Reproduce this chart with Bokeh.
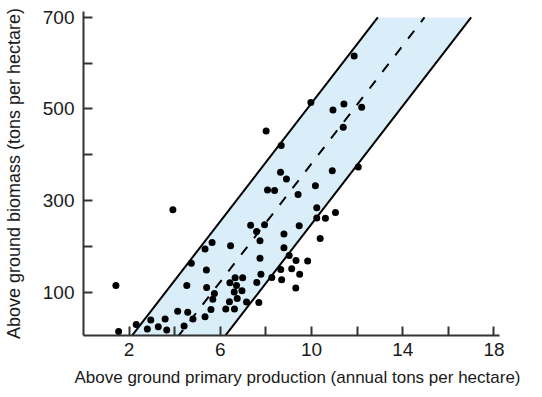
from bokeh.plotting import figure
from bokeh.models import FixedTicker, Range1d
from bokeh.embed import file_html
from bokeh.resources import INLINE

# Data (x: annual production t/ha, y: biomass t/ha)
production = [1.42, 1.54, 2.31, 2.80, 2.95, 3.28, 3.58, 3.65, 4.13, 4.41,
              4.53, 4.57, 4.80, 3.92, 4.73, 5.33, 5.64, 5.39, 5.40, 5.74,
              5.67, 5.59, 5.33, 6.24, 6.40, 6.62, 6.42, 6.65, 6.98, 6.71,
              6.61, 6.95, 6.74, 7.15, 6.45, 7.33, 7.59, 7.94, 7.74, 7.74,
              7.78, 7.60, 7.69, 8.07, 8.38, 8.90, 9.41, 9.46, 8.79, 8.79,
              9.02, 9.32, 9.83, 8.65, 9.13, 9.48, 8.26, 8.69, 9.31, 8.01,
              8.67, 8.64, 9.97, 10.94, 11.42, 12.20, 11.39, 10.91, 12.05, 10.17,
              10.23, 10.23, 10.61, 11.05, 10.38, 11.87]
biomass = [114, 14, 29, 19, 39, 24, 41, 17, 58, 26,
           114, 56, 41, 280, 163, 194, 208, 148, 110, 97,
           84, 62, 46, 63, 79, 63, 120, 131, 131, 114,
           100, 103, 86, 78, 201, 246, 232, 247, 212, 174,
           139, 121, 77, 323, 322, 347, 313, 245, 227, 197,
           180, 169, 168, 149, 151, 139, 132, 127, 109, 452,
           420, 362, 514, 498, 511, 504, 460, 365, 373, 332,
           284, 262, 261, 274, 217, 616]

# Fitted line and band (y = slope * x + intercept, band +/- half width)
fit_slope = 64.5
fit_intercept = -264.5
band_half = 132.0
band_y = [0.0, 700.0]

x_ticks = [2, 4, 6, 8, 10, 12, 14, 16, 18]
x_tick_labels = ["2", "", "6", "", "10", "", "14", "", "18"]
y_ticks = [100, 200, 300, 400, 500, 600, 700]
y_tick_labels = ["100", "", "300", "", "500", "", "700"]

x_title = "Above ground primary production (annual tons per hectare)"
y_title = "Above ground biomass (tons per hectare)"

FONT = "Liberation Sans"
TEXT = "#1a1a1a"
AXIS = "#333333"

p = figure(width=526, height=389, x_range=Range1d(0, 18.77), y_range=Range1d(5, 713),
           output_backend="svg", toolbar_location=None,
           min_border_left=80, min_border_right=15, min_border_top=11, min_border_bottom=0)
p.xgrid.visible = False
p.ygrid.visible = False
p.outline_line_color = None
p.background_fill_color = "white"

def x_at(y, offset):
    return (y - fit_intercept - offset) / fit_slope

upper_x = [x_at(y, band_half) for y in band_y]
center_x = [x_at(y, 0.0) for y in band_y]
lower_x = [x_at(y, -band_half) for y in band_y]

p.patch(upper_x + lower_x[::-1], band_y + band_y[::-1],
        fill_color="#d9eef9", line_color=None)
p.line(upper_x, band_y, line_color="black", line_width=2)
p.line(lower_x, band_y, line_color="black", line_width=2)
p.line(center_x, band_y, line_color="black", line_width=2, line_dash="10 11")
p.scatter(production, biomass, size=7, fill_color="black", line_color=None)

for ax, ticks, labels, title in ((p.xaxis[0], x_ticks, x_tick_labels, x_title),
                                 (p.yaxis[0], y_ticks, y_tick_labels, y_title)):
    ax.ticker = FixedTicker(ticks=ticks)
    ax.major_label_overrides = {t: l for t, l in zip(ticks, labels)}
    ax.minor_tick_line_color = None
    ax.major_tick_in = 9
    ax.major_tick_out = 0
    ax.major_tick_line_width = 2
    ax.major_tick_line_color = AXIS
    ax.axis_line_width = 2
    ax.axis_line_color = AXIS
    ax.major_label_text_font = FONT
    ax.major_label_text_font_size = "19px"
    ax.major_label_text_color = TEXT
    ax.axis_label = title
    ax.axis_label_text_font = FONT
    ax.axis_label_text_font_size = "18px"
    ax.axis_label_text_font_style = "normal"
    ax.axis_label_text_color = TEXT

p.xaxis[0].axis_label_text_font_size = "17px"
p.xaxis[0].bounds = (0, 18.25)
p.xaxis[0].major_label_standoff = 7
p.xaxis[0].axis_label_standoff = 9
p.yaxis[0].major_label_standoff = 9
p.yaxis[0].axis_label_standoff = 16

open("out.html", "w").write(file_html(p, INLINE))
